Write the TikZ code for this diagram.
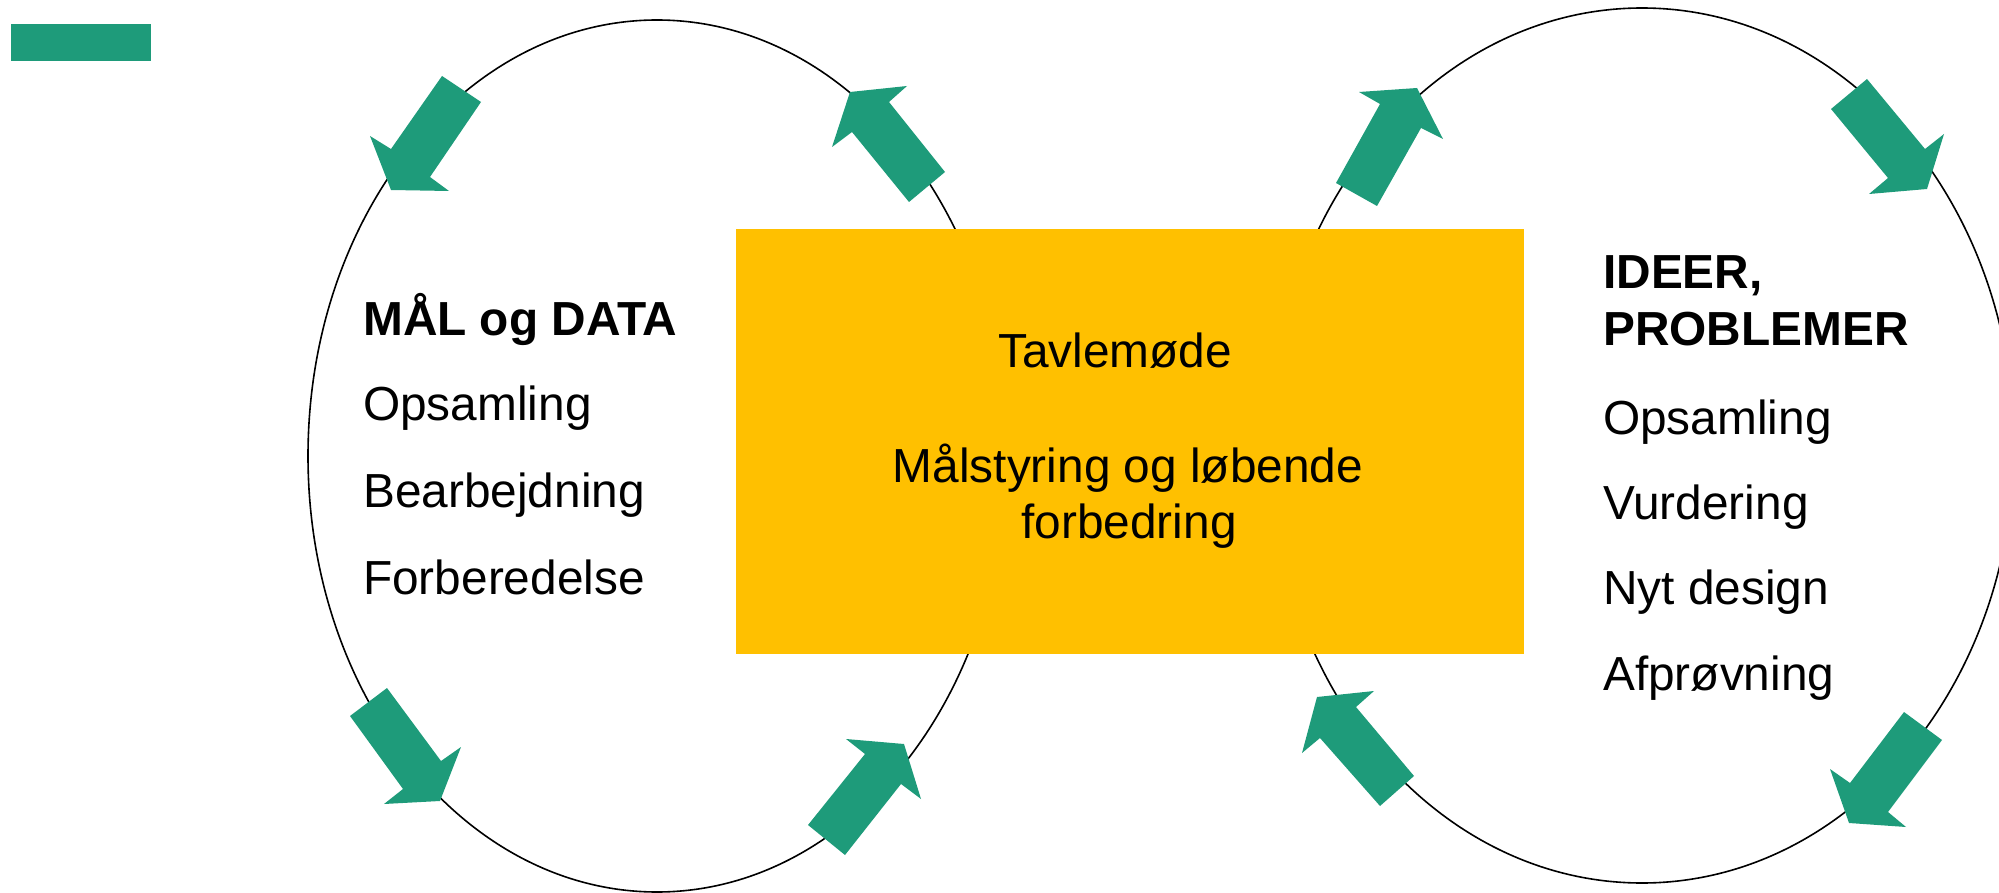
\documentclass[tikz,border=0pt]{standalone}
\usepackage{fontspec}
\setmainfont{Liberation Sans}
\definecolor{arrowgreen}{HTML}{1E9B7A}
\definecolor{boxyellow}{HTML}{FFC000}
\begin{document}
\begin{tikzpicture}[x=1pt,y=-1pt,
  ring/.style={draw=black,line width=1.6pt},
  blockarrow/.style={fill=arrowgreen},
  lbl/.style={font=\fontsize{47.8}{56}\selectfont,inner sep=0pt,anchor=base west},
  head/.style={lbl,font=\fontsize{47.8}{56}\selectfont\bfseries},
  mid/.style={font=\fontsize{47.8}{56}\selectfont,inner sep=0pt,anchor=base}]
\useasboundingbox (0,0) rectangle (1999,893);
\clip (0,0) rectangle (1999,893);
% ellipses
\draw[ring] (657,456) ellipse [x radius=349pt, y radius=436pt];
\draw[ring] (1642,445.5) ellipse [x radius=372pt, y radius=437.5pt];
% top-left legend bar
\node[fill=arrowgreen,minimum width=140pt,minimum height=37pt,inner sep=0pt] (legend) at (81,42.5) {};
% central board
\node[fill=boxyellow,minimum width=788pt,minimum height=425pt,inner sep=0pt] (board) at (1130,441.5) {};
% arrows, left ring
\fill[blockarrow] (442,76) -- (481,102) -- (430,177) -- (449,191) -- (391,190) -- (370,136) -- (391,149) -- cycle;
\fill[blockarrow] (945,172) -- (909,202) -- (852,132) -- (832,147) -- (850,92) -- (907,86) -- (889,102) -- cycle;
\fill[blockarrow] (387,688) -- (350,716) -- (403,789) -- (384,804) -- (440,801) -- (461,747) -- (441,761) -- cycle;
\fill[blockarrow] (808,825) -- (845,855) -- (901,784) -- (921,799) -- (904,744) -- (846,739) -- (865,754) -- cycle;
% arrows, right ring
\fill[blockarrow] (1336,183) -- (1377,206) -- (1421,128) -- (1443,139) -- (1417,88) -- (1359,92) -- (1380,104) -- cycle;
\fill[blockarrow] (1867,79) -- (1831,109) -- (1888,178) -- (1869,194) -- (1927,189) -- (1944,134) -- (1925,149) -- cycle;
\fill[blockarrow] (1414,776) -- (1380,806) -- (1320,738) -- (1302,753) -- (1317,697) -- (1374,691) -- (1356,707) -- cycle;
\fill[blockarrow] (1904,712) -- (1942,740) -- (1888,812) -- (1906,827) -- (1849,823) -- (1830,769) -- (1850,783) -- cycle;
% left texts
\node[head] (lhead) at (363,335) {MÅL og DATA};
\node[lbl] (l1) at (363,420) {Opsamling};
\node[lbl] (l2) at (363,507) {Bearbejdning};
\node[lbl] (l3) at (363,594) {Forberedelse};
% centre texts
\node[mid] (c1) at (1115,367) {Tavlemøde};
\node[mid] (c2) at (1128,482) {Målstyring og løbende};
\node[mid] (c3) at (1129,538) {forbedring};
% right texts
\node[head] (rhead1) at (1603,289) {IDEER,};
\node[head] (rhead2) at (1603,345) {PROBLEMER};
\node[lbl] (r1) at (1603,434) {Opsamling};
\node[lbl] (r2) at (1603,519) {Vurdering};
\node[lbl] (r3) at (1603,604) {Nyt design};
\node[lbl] (r4) at (1603,690) {Afprøvning};
\end{tikzpicture}
\end{document}
